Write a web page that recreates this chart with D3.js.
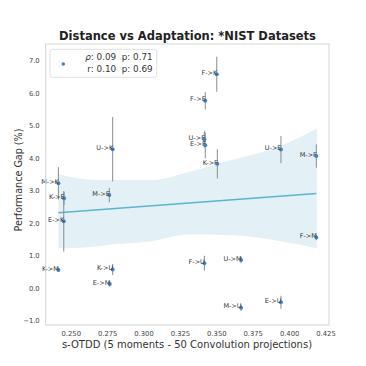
<!DOCTYPE html>
<html><head><meta charset="utf-8">
<script src="https://cdn.jsdelivr.net/npm/d3@7"></script>
<style>body{margin:0;background:#fff}text{font-family:"DejaVu Sans",sans-serif}</style>
</head><body><div id="chart"></div>
<script>
const labels = ["F->K","F->E","U->F","E->F","K->F","U->K","M->K","K->E","E->K","M->E","U->E","M->F","F->M","K->M","K->U","E->M","F->U","U->M","M->U","E->U"];
const distance = [0.3503,0.3424,0.3418,0.3424,0.3507,0.2788,0.2415,0.2454,0.2452,0.2765,0.3944,0.4187,0.4187,0.2415,0.2788,0.2768,0.3418,0.3670,0.3670,0.3944];
const gap = [6.58,5.76,4.58,4.39,3.82,4.27,3.22,2.76,2.05,2.86,4.26,4.06,1.55,0.55,0.57,0.12,0.76,0.86,-0.61,-0.44];
const gapErr = [0.54,0.27,0.26,0.40,0.45,0.99,0.50,0.20,0.93,0.22,0.42,0.36,0.08,0.05,0.17,0.08,0.23,0.10,0.10,0.20];
const bandX = [0.2415,0.2679,0.2816,0.3045,0.3319,0.3606,0.3926,0.4190];
const bandLow = [1.22,1.28,1.35,1.43,1.65,1.62,1.45,1.22];
const bandHigh = [3.50,3.32,3.32,3.32,3.58,3.94,4.35,4.91];
const xTicks = [0.250,0.275,0.300,0.325,0.350,0.375,0.400,0.425];
const yTicks = [-1,0,1,2,3,4,5,6,7];
const legendLines = ["ρ: 0.09  p: 0.71","r: 0.10  p: 0.69"];

const W=366,H=366;
const svg=d3.select("#chart").append("svg").attr("width",W).attr("height",H);
const x=d3.scaleLinear().domain([0.2328,0.4274]).range([45.7,329]);
const y=d3.scaleLinear().domain([-1.14,7.51]).range([325,44]);

// band
const band=bandX.map((v,i)=>({x:v,lo:bandLow[i],hi:bandHigh[i]}));
svg.append("path").datum(band)
  .attr("d",d3.area().x(d=>x(d.x)).y0(d=>y(d.lo)).y1(d=>y(d.hi)).curve(d3.curveMonotoneX))
  .attr("fill","#e3f0f5");

// regression
const mx=d3.mean(distance), my=d3.mean(gap);
let sxy=0,sxx=0;
distance.forEach((v,i)=>{sxy+=(v-mx)*(gap[i]-my);sxx+=(v-mx)*(v-mx);});
const slope=sxy/sxx, icpt=my-slope*mx;
const [xmin,xmax]=d3.extent(distance);
svg.append("line").attr("x1",x(xmin)).attr("x2",x(xmax))
  .attr("y1",y(icpt+slope*xmin)).attr("y2",y(icpt+slope*xmax))
  .attr("stroke","#5bb4d0").attr("stroke-width",1.5);

// error bars
const data=labels.map((l,i)=>({l,x:distance[i],y:gap[i],e:gapErr[i]}));
svg.append("g").selectAll("line").data(data).join("line")
  .attr("x1",d=>x(d.x)).attr("x2",d=>x(d.x))
  .attr("y1",d=>y(d.y-d.e)).attr("y2",d=>y(d.y+d.e))
  .attr("stroke","#8c8c8c").attr("stroke-width",1);

// points
svg.append("g").selectAll("circle").data(data).join("circle")
  .attr("cx",d=>x(d.x)).attr("cy",d=>y(d.y)).attr("r",2)
  .attr("fill","#3d85c6");

// point labels
svg.append("g").selectAll("text").data(data).join("text")
  .attr("x",d=>x(d.x)+0.5).attr("y",d=>y(d.y)).attr("dy","0.1em")
  .attr("text-anchor","end").attr("font-size",6.5).attr("fill","#333")
  .text(d=>d.l);

// frame
svg.append("rect").attr("x",45.7).attr("y",44).attr("width",329-45.7).attr("height",325-44)
  .attr("fill","none").attr("stroke","#d4d4d4").attr("stroke-width",1);

// axes
const xa=svg.append("g").attr("transform","translate(0,325)")
  .call(d3.axisBottom(x).tickValues(xTicks).tickFormat(d3.format(".3f")).tickSize(0).tickPadding(6));
const ya=svg.append("g").attr("transform","translate(45.7,0)")
  .call(d3.axisLeft(y).tickValues(yTicks).tickFormat(d3.format(".1f")).tickSize(0).tickPadding(6));
[xa,ya].forEach(a=>{a.select(".domain").remove();a.selectAll("text").attr("font-size",6.8).attr("fill","#444").attr("font-family","DejaVu Sans");});

// labels
svg.append("text").attr("x",187.5).attr("y",40).attr("text-anchor","middle")
  .attr("font-size",11.5).attr("font-weight","bold").attr("fill","#222")
  .text("Distance vs Adaptation: *NIST Datasets");
svg.append("text").attr("x",187).attr("y",348).attr("text-anchor","middle")
  .attr("font-size",10).attr("fill","#333")
  .text("s-OTDD (5 moments - 50 Convolution projections)");
svg.append("text").attr("transform","translate(22,180) rotate(-90)").attr("text-anchor","middle")
  .attr("font-size",9.6).attr("fill","#333").text("Performance Gap (%)");

// legend
const lg=svg.append("g");
lg.append("rect").attr("x",50).attr("y",49.3).attr("width",106.7).attr("height",28).attr("rx",2.5)
  .attr("fill","#fff").attr("stroke","#d8d8d8").attr("stroke-width",0.8);
lg.append("circle").attr("cx",63.3).attr("cy",64).attr("r",1.8).attr("fill","#3d85c6");
lg.selectAll("text.l").data(legendLines).join("text").attr("class","l")
  .attr("x",152.7).attr("y",(d,i)=>56.7+i*12.6).attr("dy","0.35em").attr("text-anchor","end")
  .attr("font-size",8.8).attr("fill","#333")
  .each(function(d,i){
    const t=d3.select(this);
    if(i===0){t.append("tspan").attr("font-style","italic").text("ρ");t.append("tspan").attr("xml:space","preserve").text(d.slice(1));}
    else t.attr("xml:space","preserve").text(d);
  });
</script></body></html>
